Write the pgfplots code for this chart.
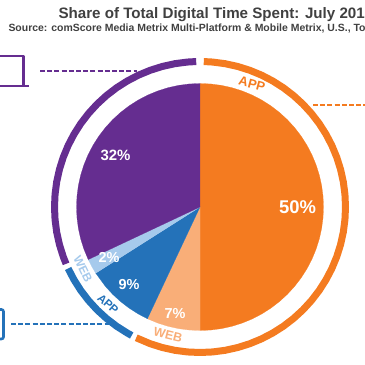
\documentclass[border=0pt]{standalone}
\usepackage{pgfplots}
\pgfplotsset{compat=1.18}
\usepackage{fontspec}
\setmainfont{Liberation Sans}
\definecolor{cO}{HTML}{F47B20}
\definecolor{cP}{HTML}{F9AE78}
\definecolor{cB}{HTML}{2472B9}
\definecolor{cL}{HTML}{A6CAEC}
\definecolor{cV}{HTML}{652D90}
\definecolor{cT}{HTML}{404040}
\begin{document}
\begin{tikzpicture}[x=1bp,y=1bp]
\clip (0,0) rectangle (365,365);
\begin{axis}[at={(0,0)},anchor=south west,scale only axis,width=365bp,height=365bp,
 xmin=-200,xmax=165,ymin=-158,ymax=207,axis lines=none,clip=true,data cs=polar,no markers,
 every axis plot/.append style={line join=round}]
% wedges: (angle, radius)
\addplot[draw=cO,line width=0.2pt,fill=cO] coordinates {(0,0) (90,123.5) (85,123.5) (80,123.5) (75,123.5) (70,123.5) (65,123.5) (60,123.5) (55,123.5) (50,123.5) (45,123.5) (40,123.5) (35,123.5) (30,123.5) (25,123.5) (20,123.5) (15,123.5) (10,123.5) (5,123.5) (0,123.5) (-5,123.5) (-10,123.5) (-15,123.5) (-20,123.5) (-25,123.5) (-30,123.5) (-35,123.5) (-40,123.5) (-45,123.5) (-50,123.5) (-55,123.5) (-60,123.5) (-65,123.5) (-70,123.5) (-75,123.5) (-80,123.5) (-85,123.5) (-90,123.5)};
\addplot[draw=cP,line width=0.2pt,fill=cP] coordinates {(0,0) (-90,123.5) (-95,123.5) (-100,123.5) (-105,123.5) (-110,123.5) (-115.2,123.5)};
\addplot[draw=cB,line width=0.2pt,fill=cB] coordinates {(0,0) (-115.2,123.5) (-120,123.5) (-125,123.5) (-130,123.5) (-135,123.5) (-140,123.5) (-147.6,123.5)};
\addplot[draw=cL,line width=0.2pt,fill=cL] coordinates {(0,0) (-147.6,123.5) (-151,123.5) (-154.8,123.5)};
\addplot[draw=cV,line width=0.2pt,fill=cV] coordinates {(0,0) (-154.8,123.5) (-160,123.5) (-165,123.5) (-170,123.5) (-175,123.5) (-180,123.5) (-185,123.5) (-190,123.5) (-195,123.5) (-200,123.5) (-205,123.5) (-210,123.5) (-215,123.5) (-220,123.5) (-225,123.5) (-230,123.5) (-235,123.5) (-240,123.5) (-245,123.5) (-250,123.5) (-255,123.5) (-260,123.5) (-265,123.5) (-270,123.5)};
% outer rings
\addplot[cO,line width=7bp] coordinates {(88.5,145.5) (85,145.5) (80,145.5) (75,145.5) (70,145.5) (65,145.5) (60,145.5) (55,145.5) (50,145.5) (45,145.5) (40,145.5) (35,145.5) (30,145.5) (25,145.5) (20,145.5) (15,145.5) (10,145.5) (5,145.5) (0,145.5) (-5,145.5) (-10,145.5) (-15,145.5) (-20,145.5) (-25,145.5) (-30,145.5) (-35,145.5) (-40,145.5) (-45,145.5) (-50,145.5) (-55,145.5) (-60,145.5) (-65,145.5) (-70,145.5) (-75,145.5) (-80,145.5) (-85,145.5) (-90,145.5) (-95,145.5) (-100,145.5) (-105,145.5) (-110,145.5) (-116,145.5)};
\addplot[cB,line width=7bp] coordinates {(-118,145.5) (-120,145.5) (-125,145.5) (-130,145.5) (-135,145.5) (-140,145.5) (-145,145.5) (-150,145.5) (-155,145.5)};
\addplot[cV,line width=7bp] coordinates {(-157,145.5) (-160,145.5) (-165,145.5) (-170,145.5) (-175,145.5) (-180,145.5) (-185,145.5) (-190,145.5) (-195,145.5) (-200,145.5) (-205,145.5) (-210,145.5) (-215,145.5) (-220,145.5) (-225,145.5) (-230,145.5) (-235,145.5) (-240,145.5) (-245,145.5) (-250,145.5) (-255,145.5) (-260,145.5) (-265,145.5) (-268.5,145.5)};
% leader lines (x = pixel - 200, y = 207 - pixel)
\addplot[cV,line width=1.3bp,dash pattern=on 5bp off 2.2bp,data cs=cart] coordinates {(-160,136) (-63,136)};
\addplot[cO,line width=1.3bp,dash pattern=on 5bp off 2.2bp,data cs=cart] coordinates {(113,102) (165,102)};
\addplot[cB,line width=1.3bp,dash pattern=on 5bp off 2.2bp,data cs=cart] coordinates {(-189,-117) (-90,-117)};
% device icons
\addplot[cV,line width=2.6bp,data cs=cart] coordinates {(-210,151) (-176.5,151) (-176.5,122)};
\addplot[cV,line width=2.4bp,data cs=cart] coordinates {(-210,121) (-171,121)};
\addplot[cB,line width=2.6bp,rounded corners=2bp,data cs=cart] coordinates {(-210,-102.5) (-196.5,-102.5) (-196.5,-132) (-210,-132)};
% texts
\node[anchor=west,text=cT,font=\bfseries\fontsize{15.2}{17}\selectfont] at (axis cs:-145,192) {Share of Total Digital Time Spent: July 2016};
\node[anchor=west,text=cT,font=\bfseries\fontsize{10.5}{12}\selectfont] at (axis cs:-195,178.5) {Source: comScore Media Metrix Multi-Platform \& Mobile Metrix, U.S., Total Audience};
\node[text=white,font=\bfseries\fontsize{18.5}{20}\selectfont] at (axis cs:97.5,0) {50\%};
\node[text=white,font=\bfseries\fontsize{15}{17}\selectfont] at (axis cs:-84.5,52) {32\%};
\node[text=white,font=\bfseries\fontsize{14.5}{16}\selectfont] at (axis cs:-71,-78) {9\%};
\node[text=white,font=\bfseries\fontsize{14.5}{16}\selectfont] at (axis cs:-25,-107) {7\%};
\node[text=white,font=\bfseries\fontsize{14.5}{16}\selectfont] at (axis cs:-91,-51) {2\%};
\node[text=cO,rotate=-15,font=\bfseries\fontsize{13}{15}\selectfont] at (axis cs:52,123) {APP};
\node[text=cP,rotate=-14,font=\bfseries\fontsize{12.5}{14}\selectfont] at (axis cs:-32,-128) {WEB};
\node[text=cB,rotate=-42,font=\bfseries\fontsize{11.5}{13}\selectfont] at (axis cs:-92,-97) {APP};
\node[text=cL,rotate=-64,font=\bfseries\fontsize{12}{14}\selectfont] at (axis cs:-117,-62) {WEB};
\end{axis}
\end{tikzpicture}
\end{document}
